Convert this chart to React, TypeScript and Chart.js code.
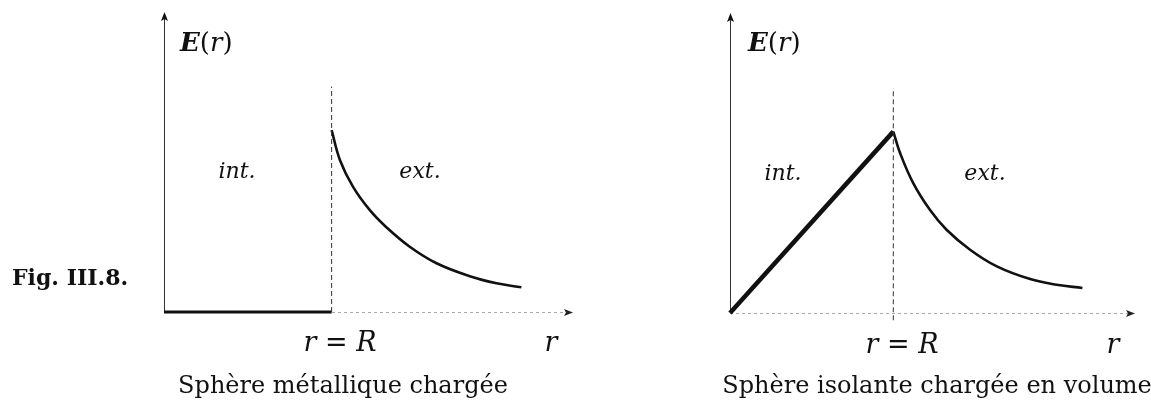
import React, { useEffect, useRef } from "react";
import { Chart, registerables } from "chart.js";

Chart.register(...registerables);

// ---- Data (r in arbitrary units, R = 5; E normalised to E(R) = 1) ----
const rBoundary = 5;
const dashTop = 1.24;

// Left panel: charged metallic sphere
const leftIntR = [0, 5];
const leftIntE = [0, 0];
const leftExtR = [5, 5.25, 5.64, 6.14, 6.64, 7.33, 8.13, 9.12, 9.92, 10.66];
const leftExtE = [1, 0.835, 0.688, 0.56, 0.465, 0.359, 0.268, 0.197, 0.158, 0.136];
const leftAxisMax = { x: 12.2, y: 1.65 };

// Right panel: insulating sphere charged in volume
const rightIntR = [0, 5];
const rightIntE = [0, 1];
const rightExtR = [5, 5.21, 5.61, 6.12, 6.63, 7.35, 8.17, 9.19, 10.0, 10.79];
const rightExtE = [1, 0.881, 0.716, 0.569, 0.459, 0.349, 0.257, 0.187, 0.156, 0.138];
const rightAxisMax = { x: 12.4, y: 1.654 };

// Texts
const figLabel = "Fig. III.8.";
const captions = ["Sphère métallique chargée", "Sphère isolante chargée en volume"];
const regionLabels = ["int.", "ext."];

const pts = (xs: number[], ys: number[]) => xs.map((x, i) => ({ x, y: ys[i] }));

const axesPlugin = {
  id: "arrowAxes",
  beforeDatasetsDraw(chart: any) {
    const { ctx, scales } = chart;
    const xs = scales.x;
    const ys = scales.y;
    const x0 = xs.getPixelForValue(0);
    const y0 = ys.getPixelForValue(0);
    const xEnd = xs.getPixelForValue(xs.max);
    const yEnd = ys.getPixelForValue(ys.max);
    ctx.save();
    // y axis
    ctx.strokeStyle = "#333";
    ctx.lineWidth = 1;
    ctx.setLineDash([]);
    ctx.beginPath();
    ctx.moveTo(x0 + 0.5, y0);
    ctx.lineTo(x0 + 0.5, yEnd + 4);
    ctx.stroke();
    ctx.fillStyle = "#111";
    ctx.beginPath();
    ctx.moveTo(x0 + 0.5, yEnd);
    ctx.lineTo(x0 - 3, yEnd + 9);
    ctx.lineTo(x0 + 0.5, yEnd + 7);
    ctx.lineTo(x0 + 4, yEnd + 9);
    ctx.closePath();
    ctx.fill();
    // x axis (light, dotted)
    ctx.strokeStyle = "#aaa";
    ctx.setLineDash([3, 3]);
    ctx.beginPath();
    ctx.moveTo(x0, y0 + 0.5);
    ctx.lineTo(xEnd - 4, y0 + 0.5);
    ctx.stroke();
    ctx.setLineDash([]);
    ctx.fillStyle = "#222";
    ctx.beginPath();
    ctx.moveTo(xEnd, y0 + 0.5);
    ctx.lineTo(xEnd - 9, y0 - 3);
    ctx.lineTo(xEnd - 7, y0 + 0.5);
    ctx.lineTo(xEnd - 9, y0 + 4);
    ctx.closePath();
    ctx.fill();
    ctx.restore();
  },
};

function makeConfig(
  intR: number[],
  intE: number[],
  extR: number[],
  extE: number[],
  axisMax: { x: number; y: number },
  padding: { left: number; right: number; top: number; bottom: number },
  intWidth: number,
  dashBelow: number
): any {
  return {
    type: "scatter",
    data: {
      datasets: [
        {
          data: pts([rBoundary, rBoundary], [dashBelow, dashTop]),
          showLine: true,
          borderColor: "#333",
          borderWidth: 1,
          borderDash: [5, 3],
          pointRadius: 0,
          clip: false,
        },
        {
          data: pts(intR, intE),
          showLine: true,
          borderColor: "#111",
          borderWidth: intWidth,
          pointRadius: 0,
          clip: false,
        },
        {
          data: pts(extR, extE),
          showLine: true,
          borderColor: "#111",
          borderWidth: 2.6,
          pointRadius: 0,
          tension: 0.4,
          clip: false,
        },
      ],
    },
    options: {
      animation: false,
      responsive: false,
      events: [],
      layout: { padding },
      plugins: { legend: { display: false }, tooltip: { enabled: false } },
      scales: {
        x: { type: "linear", min: 0, max: axisMax.x, display: false },
        y: { type: "linear", min: 0, max: axisMax.y, display: false },
      },
    },
    plugins: [axesPlugin],
  };
}

const serif = "'DejaVu Serif', serif";

const Abs = ({ x, y, children, size, align = "center", style = {} }: any) => (
  <div
    style={{
      position: "absolute",
      left: x,
      top: y,
      transform: align === "center" ? "translate(-50%, -50%)" : "translate(0, -50%)",
      fontFamily: serif,
      fontSize: size,
      whiteSpace: "nowrap",
      color: "#111",
      lineHeight: 1,
      ...style,
    }}
  >
    {children}
  </div>
);

const ELabel = () => (
  <span>
    <b style={{ fontStyle: "italic" }}>E</b>(<i>r</i>)
  </span>
);

const RLabel = () => (
  <span>
    <i>r</i> = <i>R</i>
  </span>
);

export default function App() {
  const leftRef = useRef<HTMLCanvasElement>(null);
  const rightRef = useRef<HTMLCanvasElement>(null);

  useEffect(() => {
    const c1 = new Chart(
      leftRef.current as HTMLCanvasElement,
      makeConfig(leftIntR, leftIntE, leftExtR, leftExtE, leftAxisMax,
        { left: 64, right: 27, top: 12, bottom: 89 }, 3, 0)
    );
    const c2 = new Chart(
      rightRef.current as HTMLCanvasElement,
      makeConfig(rightIntR, rightIntE, rightExtR, rightExtE, rightAxisMax,
        { left: 50, right: 16, top: 13, bottom: 88 }, 4.5, -0.04)
    );
    return () => {
      c1.destroy();
      c2.destroy();
    };
  }, []);

  return (
    <div style={{ position: "absolute", left: 0, top: 0, width: 1151, height: 401, background: "#fff", overflow: "hidden" }}>
      <canvas ref={leftRef} width={500} height={401} style={{ position: "absolute", left: 100, top: 0, width: 500, height: 401 }} />
      <canvas ref={rightRef} width={471} height={401} style={{ position: "absolute", left: 680, top: 0, width: 471, height: 401 }} />

      <Abs x={12} y={277} size={22} align="left" style={{ fontWeight: "bold" }}>{figLabel}</Abs>

      {/* Left panel texts */}
      <Abs x={180} y={42} size={26} align="left"><ELabel /></Abs>
      <Abs x={237} y={171} size={22}><i>{regionLabels[0]}</i></Abs>
      <Abs x={420} y={171} size={22}><i>{regionLabels[1]}</i></Abs>
      <Abs x={340} y={341} size={27}><RLabel /></Abs>
      <Abs x={551} y={341} size={27}><i>r</i></Abs>
      <Abs x={343} y={385} size={24}>{captions[0]}</Abs>

      {/* Right panel texts */}
      <Abs x={748} y={42} size={26} align="left"><ELabel /></Abs>
      <Abs x={783} y={173} size={22}><i>{regionLabels[0]}</i></Abs>
      <Abs x={985} y={173} size={22}><i>{regionLabels[1]}</i></Abs>
      <Abs x={902} y={343} size={27}><RLabel /></Abs>
      <Abs x={1113} y={343} size={27}><i>r</i></Abs>
      <Abs x={937} y={385} size={24}>{captions[1]}</Abs>
    </div>
  );
}
